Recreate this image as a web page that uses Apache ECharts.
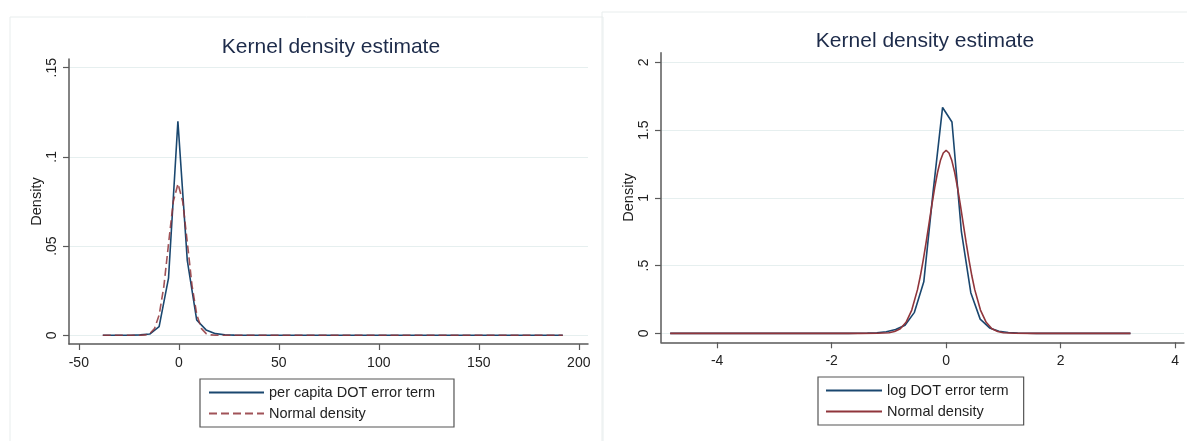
<!DOCTYPE html>
<html>
<head>
<meta charset="utf-8">
<script src="https://cdn.jsdelivr.net/npm/echarts@6/dist/echarts.min.js"></script>
<style>
    html, body { margin: 0; padding: 0; background: #fff; }
    #chart { width: 1187px; height: 441px; }
</style>
</head>
<body>
<div id="chart"></div>
<script>
// left panel: per capita DOT error term (kernel grid points)
const pcX = [-38, -23.92, -19.22, -14.53, -9.84, -5.14, -0.45, 4.24, 8.94, 13.63, 18.33, 23.02, 27.71, 192];
const pcY = [0, 0, 0.0002, 0.0007, 0.0048, 0.032, 0.120, 0.042, 0.0086, 0.003, 0.0009, 0.0003, 0.0001, 0];
// left panel: normal density
const pnX = [-38, -19.2, -16.85, -14.5, -12.15, -9.8, -7.45, -5.1, -2.75, -0.4, 1.95, 4.3, 6.65, 9.0, 11.35, 13.7, 16.05, 18.4, 192];
const pnY = [0, 0, 0.0002, 0.0009, 0.0037, 0.0115, 0.0276, 0.0516, 0.075, 0.085, 0.075, 0.0516, 0.0276, 0.0115, 0.0037, 0.0009, 0.0002, 0, 0];

// right panel: log DOT error term
const logX = [-4.82, -1.702, -1.538, -1.374, -1.210, -1.046, -0.882, -0.718, -0.554, -0.390, -0.226, -0.062, 0.102, 0.267, 0.431, 0.595, 0.759, 0.923, 1.087, 1.251, 1.415, 1.579, 3.22];
const logY = [0, 0, 0.001, 0.002, 0.005, 0.012, 0.028, 0.06, 0.155, 0.38, 1.05, 1.667, 1.56, 0.75, 0.30, 0.105, 0.04, 0.015, 0.006, 0.003, 0.001, 0, 0];
// right panel: normal density
const lnX = [-4.82, -1.5, -1.2, -1.0, -0.9, -0.8, -0.7, -0.6, -0.5, -0.45, -0.4, -0.35, -0.3, -0.25, -0.2, -0.15, -0.1, -0.05, 0,
    0.05, 0.1, 0.15, 0.2, 0.25, 0.3, 0.35, 0.4, 0.45, 0.5, 0.6, 0.7, 0.8, 0.9, 1.0, 1.2, 1.5, 3.22];
const lnY = [0, 0, 0.0004, 0.0044, 0.0131, 0.0346, 0.0816, 0.1718, 0.3225, 0.423, 0.540, 0.669, 0.806, 0.944, 1.074, 1.187, 1.275, 1.331, 1.35,
    1.331, 1.275, 1.187, 1.074, 0.944, 0.806, 0.669, 0.540, 0.423, 0.3225, 0.1718, 0.0816, 0.0346, 0.0131, 0.0044, 0.0004, 0, 0];

// tick labels
const leftXTicks = [-50, 0, 50, 100, 150, 200];
const leftYTicks = [0, 0.05, 0.1, 0.15];
const rightXTicks = [-4, -2, 0, 2, 4];
const rightYTicks = [0, 0.5, 1, 1.5, 2];

const titleText = 'Kernel density estimate';
const yName = 'Density';
const legendNames = {
    pc: 'per capita DOT error term',
    pn: 'Normal density',
    lg: 'log DOT error term',
    ln: 'Normal density'
};

const BLUE = '#1a476f';
const RED = '#90353b';
const FONT = 'Liberation Sans, Arial, sans-serif';

function pairs(xs, ys) {
    return xs.map((x, i) => [x, ys[i]]);
}
// stata style: .05 instead of 0.05
function stataNum(v) {
    if (v === 0) return '0';
    return String(v).replace(/^0\./, '.');
}

function xAxisOpt(gridIndex, min, max, ticks) {
    return {
        type: 'value', gridIndex: gridIndex, min: min, max: max,
        axisLine: { show: true, onZero: false, lineStyle: { color: '#5a5a5a', width: 1.5 } },
        axisTick: { show: true, length: 6, customValues: ticks, lineStyle: { color: '#5a5a5a', width: 1.2 } },
        axisLabel: { customValues: ticks, margin: 12, fontSize: 14, color: '#222', fontFamily: FONT, formatter: stataNum },
        splitLine: { show: false }
    };
}
function yAxisOpt(gridIndex, min, max, ticks) {
    return {
        type: 'value', gridIndex: gridIndex, min: min, max: max,
        name: yName, nameLocation: 'middle', nameGap: 25,
        nameTextStyle: { fontSize: 14.5, color: '#222', fontFamily: FONT },
        axisLine: { show: true, onZero: false, lineStyle: { color: '#5a5a5a', width: 1.5 } },
        axisTick: { show: true, length: 6, customValues: ticks, lineStyle: { color: '#5a5a5a', width: 1.2 } },
        axisLabel: { customValues: ticks, rotate: 90, margin: 10, fontSize: 14, color: '#222', fontFamily: FONT, formatter: stataNum },
        splitLine: { show: true, lineStyle: { color: '#e6efef', width: 1.2 } }
    };
}

const legendBase = {
    orient: 'vertical', itemHeight: 14, itemGap: 5,
    borderColor: '#555', borderWidth: 1.2,
    itemStyle: { opacity: 0 },
    formatter: n => legendNames[n],
    textStyle: { fontSize: 14.5, lineHeight: 16, color: '#222', fontFamily: FONT }
};

const myChart = echarts.init(document.getElementById('chart'), null, { renderer: 'canvas' });
const option = {
    backgroundColor: '#fff',
    animation: false,
    graphic: [
        { type: 'rect', shape: { x: 10, y: 17, width: 593, height: 440 }, style: { fill: 'none', stroke: '#e8eded', lineWidth: 1 }, z: -1 },
        { type: 'rect', shape: { x: 602, y: 12, width: 600, height: 440 }, style: { fill: 'none', stroke: '#e8eded', lineWidth: 1 }, z: -1 }
    ],
    title: [
        { text: titleText, left: 326, top: 32, textAlign: 'center', textStyle: { fontSize: 21, fontWeight: 'normal', color: '#1d2b4a', fontFamily: FONT } },
        { text: titleText, left: 920, top: 26, textAlign: 'center', textStyle: { fontSize: 21, fontWeight: 'normal', color: '#1d2b4a', fontFamily: FONT } }
    ],
    legend: [
        Object.assign({}, legendBase, {
            data: ['pc', 'pn'], left: 200, top: 379, itemWidth: 55,
            padding: [5.5, 19, 5.5, 8]
        }),
        Object.assign({}, legendBase, {
            data: ['lg', 'ln'], left: 818, top: 377, itemWidth: 56,
            padding: [5.5, 15, 5.5, 7]
        })
    ],
    grid: [
        { left: 69, right: 599, top: 59, bottom: 97 },
        { left: 661, right: 3, top: 52.7, bottom: 98.7 }
    ],
    xAxis: [
        xAxisOpt(0, -54.9, 204.6, leftXTicks),
        xAxisOpt(1, -4.98, 4.155, rightXTicks)
    ],
    yAxis: [
        yAxisOpt(0, -0.0049, 0.1549, leftYTicks),
        yAxisOpt(1, -0.066, 2.071, rightYTicks)
    ],
    series: [
        {
            name: 'pc', type: 'line', xAxisIndex: 0, yAxisIndex: 0, symbol: 'none',
            lineStyle: { color: BLUE, width: 1.6 }, itemStyle: { color: BLUE },
            data: pairs(pcX, pcY), z: 3
        },
        {
            name: 'pn', type: 'line', xAxisIndex: 0, yAxisIndex: 0, symbol: 'none',
            lineStyle: { color: RED, width: 1.6, type: [8, 4], opacity: 0.85 }, itemStyle: { color: RED },
            data: pairs(pnX, pnY), z: 4
        },
        {
            name: 'lg', type: 'line', xAxisIndex: 1, yAxisIndex: 1, symbol: 'none',
            lineStyle: { color: BLUE, width: 1.6 }, itemStyle: { color: BLUE },
            data: pairs(logX, logY), z: 3
        },
        {
            name: 'ln', type: 'line', xAxisIndex: 1, yAxisIndex: 1, symbol: 'none',
            lineStyle: { color: RED, width: 1.6 }, itemStyle: { color: RED },
            data: pairs(lnX, lnY), z: 4
        }
    ]
};
myChart.setOption(option);
window.addEventListener('resize', () => {
    myChart.resize();
});
</script>
</body>
</html>
